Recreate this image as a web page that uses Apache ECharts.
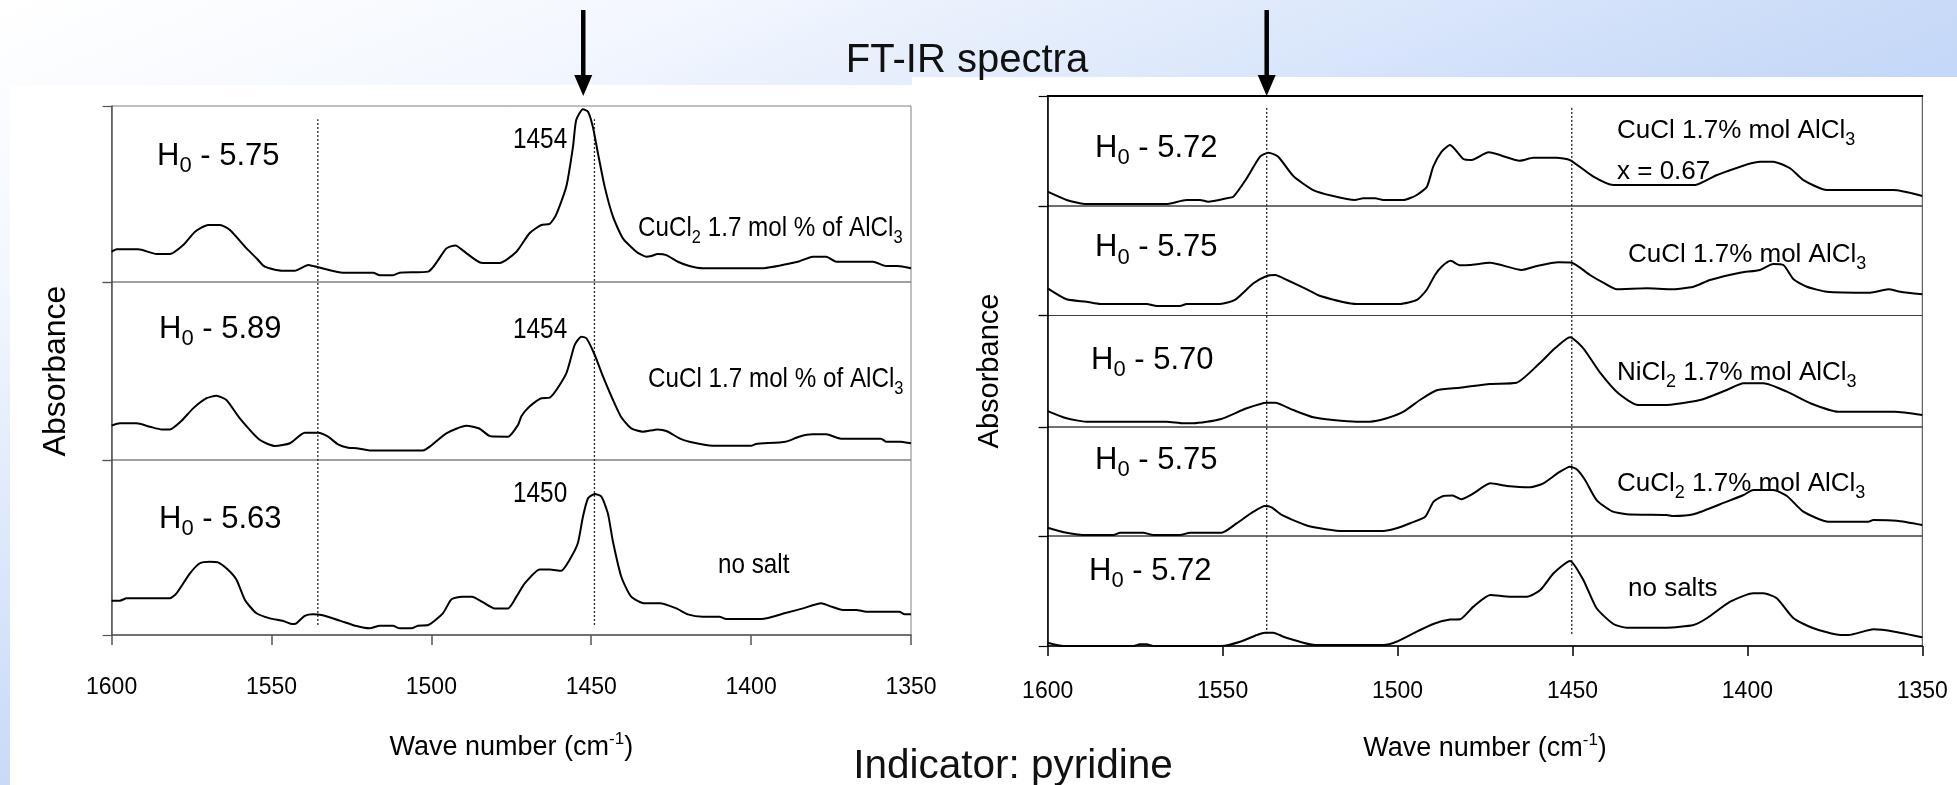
<!DOCTYPE html>
<html>
<head>
<meta charset="utf-8">
<script src="https://cdn.jsdelivr.net/npm/echarts@6/dist/echarts.min.js"></script>
<style>
html, body { margin: 0; padding: 0; width: 1957px; height: 785px; overflow: hidden; }
body { position: relative; background: linear-gradient(to bottom right, #ffffff 0%, #f3f7fe 18%, #c8daf8 50%, #a9c3ee 100%); }
.sheet { position: absolute; background: #ffffff; }
#chart { position: absolute; left: 0; top: 0; width: 1957px; height: 785px; }
</style>
</head>
<body>
<div class="sheet" style="left:10px;top:85px;width:902px;height:700px"></div>
<div class="sheet" style="left:912px;top:77px;width:1045px;height:708px"></div>
<div id="chart"></div>
<script>
// wave number range (cm-1), axis runs 1600 -> 1350
var xTicks = [1600, 1550, 1500, 1450, 1400, 1350];

// left plot, [wave number, absorbance] (panel relative)
var leftCuCl2 = [[1600,0.172],[1598.4,0.186],[1591.7,0.186],[1585.9,0.159],[1581.8,0.159],[1577.6,0.210],[1573.9,0.286],[1569.8,0.324],[1566.1,0.324],[1563,0.295],[1557.8,0.191],[1554.7,0.135],[1552.1,0.087],[1546.8,0.064],[1542.7,0.064],[1538.5,0.097],[1535.4,0.084],[1527.6,0.053],[1518.2,0.053],[1516.1,0.038],[1512,0.038],[1509.9,0.053],[1501,0.059],[1495.3,0.191],[1492.5,0.208],[1489,0.163],[1484.5,0.110],[1478.6,0.108],[1473.4,0.172],[1469.3,0.277],[1465.6,0.324],[1463,0.330],[1461,0.381],[1457.8,0.542],[1455.7,0.769],[1454.7,0.920],[1452.6,0.981],[1451,0.968],[1449.5,0.882],[1447.9,0.731],[1445.8,0.542],[1443.2,0.371],[1440.1,0.248],[1435.9,0.172],[1432.8,0.144],[1431.2,0.148],[1429.2,0.159],[1426.5,0.153],[1422.9,0.115],[1419.3,0.091],[1415.1,0.078],[1396.8,0.078],[1385.4,0.115],[1380.7,0.144],[1376.5,0.144],[1373.4,0.115],[1361.9,0.115],[1357.8,0.091],[1354.2,0.091],[1350,0.078]];
var leftCuCl = [[1600,0.193],[1597.4,0.206],[1592.2,0.206],[1588,0.187],[1584.3,0.172],[1581.8,0.172],[1578.1,0.221],[1574.5,0.290],[1570.3,0.347],[1567.2,0.361],[1564.1,0.337],[1559.9,0.234],[1553.6,0.112],[1548.9,0.079],[1544.2,0.094],[1539.6,0.153],[1535.4,0.153],[1532.3,0.131],[1529.2,0.088],[1526,0.069],[1523.4,0.066],[1519.3,0.054],[1502.6,0.054],[1500.5,0.075],[1495.3,0.150],[1489,0.192],[1485,0.177],[1481.5,0.133],[1476,0.131],[1472.9,0.197],[1471.8,0.247],[1469.3,0.300],[1465.6,0.347],[1463,0.350],[1457.8,0.487],[1455.2,0.646],[1453.1,0.693],[1451.5,0.684],[1448.9,0.590],[1446.3,0.468],[1443.2,0.337],[1440.6,0.240],[1437.5,0.178],[1433.8,0.159],[1429.2,0.172],[1426.5,0.163],[1422.4,0.122],[1419.3,0.103],[1412,0.080],[1400,0.080],[1398.5,0.090],[1389.2,0.103],[1385,0.131],[1380.8,0.144],[1376.5,0.144],[1371.9,0.120],[1359.4,0.120],[1357.8,0.103],[1353.2,0.103],[1350,0.094]];
var leftNoSalt = [[1600,0.196],[1597.4,0.196],[1595.3,0.210],[1581.8,0.210],[1579.7,0.238],[1575.5,0.352],[1572.4,0.410],[1569.3,0.419],[1566.7,0.415],[1563.5,0.371],[1560.9,0.314],[1558.3,0.200],[1554.7,0.124],[1550.5,0.095],[1546.3,0.080],[1543.7,0.063],[1542.2,0.067],[1539.6,0.109],[1537,0.118],[1534.4,0.114],[1528.6,0.082],[1523.4,0.051],[1519.3,0.038],[1516.1,0.053],[1512,0.053],[1509.9,0.038],[1506.2,0.038],[1504.2,0.053],[1501,0.057],[1496.4,0.124],[1493.7,0.204],[1490.4,0.219],[1487.3,0.219],[1483.8,0.186],[1480.2,0.152],[1476,0.152],[1473.4,0.219],[1470.8,0.295],[1466.1,0.375],[1463,0.375],[1459.4,0.367],[1456.8,0.429],[1454.2,0.524],[1452.6,0.676],[1451,0.781],[1448.9,0.806],[1446.8,0.790],[1444.8,0.695],[1443.2,0.533],[1440.6,0.333],[1437.5,0.219],[1433.3,0.181],[1428.6,0.181],[1423.4,0.152],[1419.8,0.118],[1415.1,0.105],[1409.9,0.105],[1407.8,0.091],[1396.8,0.091],[1389,0.127],[1383.8,0.152],[1378.1,0.181],[1375.5,0.166],[1371.3,0.143],[1367.1,0.143],[1364,0.133],[1353.6,0.133],[1352,0.118],[1350,0.118]];

// right plot
var rightCuClX = [[1600,0.130],[1594.6,0.055],[1588.9,0.018],[1566,0.018],[1560.3,0.055],[1556.5,0.055],[1554.1,0.039],[1548.8,0.070],[1546.9,0.085],[1543.1,0.252],[1539.3,0.448],[1536.9,0.485],[1534.1,0.448],[1529.8,0.273],[1524.1,0.145],[1518.4,0.091],[1512.2,0.055],[1509.8,0.070],[1506.4,0.070],[1504.1,0.055],[1498.3,0.055],[1494.5,0.100],[1491.6,0.176],[1489.8,0.357],[1487.4,0.494],[1485,0.555],[1481.2,0.427],[1478.8,0.418],[1474,0.488],[1465,0.412],[1461.2,0.439],[1454.5,0.439],[1450.7,0.418],[1444,0.267],[1438.3,0.191],[1414.9,0.191],[1408.7,0.282],[1396.4,0.403],[1392.6,0.403],[1387.8,0.343],[1384,0.236],[1377.3,0.145],[1358.3,0.145],[1350,0.091]];
var rightCuCl = [[1600,0.248],[1594.6,0.148],[1588.9,0.126],[1585,0.105],[1571.7,0.105],[1568.8,0.087],[1562.2,0.087],[1560.3,0.105],[1550.7,0.105],[1546.5,0.142],[1541.2,0.294],[1537.4,0.361],[1535,0.370],[1531.6,0.324],[1525.9,0.239],[1522.1,0.178],[1511.7,0.105],[1499.3,0.105],[1494.5,0.142],[1491.7,0.233],[1489.3,0.370],[1487.4,0.446],[1484.8,0.499],[1482.1,0.458],[1479.3,0.461],[1473.5,0.482],[1464.5,0.416],[1460.2,0.452],[1454,0.486],[1450.2,0.482],[1445,0.370],[1441.2,0.300],[1437.3,0.239],[1428.8,0.248],[1422.1,0.239],[1415.4,0.263],[1410.7,0.324],[1402.1,0.391],[1396.4,0.416],[1392.6,0.470],[1389.7,0.461],[1386.8,0.331],[1383,0.263],[1377.3,0.217],[1364.9,0.208],[1359.7,0.239],[1356.3,0.217],[1350,0.194]];
var rightNiCl2 = [[1600,0.143],[1594.6,0.078],[1588.9,0.048],[1566,0.048],[1561.2,0.033],[1558.4,0.033],[1550.7,0.069],[1543.1,0.168],[1537.4,0.218],[1535,0.218],[1529.8,0.152],[1524.1,0.087],[1518.4,0.063],[1511.7,0.048],[1507.9,0.048],[1503.1,0.078],[1498.3,0.137],[1493.6,0.242],[1488.8,0.330],[1482.1,0.352],[1473.6,0.386],[1466,0.397],[1459.4,0.571],[1455,0.706],[1450.7,0.805],[1446.9,0.706],[1442.1,0.487],[1436.9,0.302],[1431.2,0.197],[1424,0.197],[1413.5,0.242],[1405.9,0.332],[1401.1,0.392],[1395.4,0.392],[1388.7,0.317],[1382,0.213],[1374,0.137],[1357.9,0.137],[1350,0.108]];
var rightCuCl2 = [[1600,0.076],[1594.6,0.030],[1588.9,0.009],[1581.2,0.009],[1579.3,0.030],[1572.7,0.030],[1569.8,0.009],[1562.2,0.009],[1559.3,0.030],[1550.3,0.030],[1546,0.116],[1541.2,0.223],[1537.9,0.275],[1536,0.263],[1533.1,0.193],[1525.5,0.092],[1515.5,0.046],[1504.1,0.046],[1500.3,0.071],[1496.4,0.117],[1492.1,0.177],[1489.7,0.315],[1486.9,0.367],[1484.3,0.372],[1481.8,0.338],[1478.3,0.391],[1473.5,0.483],[1468.8,0.459],[1462.1,0.447],[1458.3,0.483],[1454,0.581],[1450.7,0.636],[1448.8,0.612],[1446.4,0.514],[1443.1,0.330],[1438.8,0.229],[1434.5,0.199],[1423.1,0.193],[1421.2,0.183],[1415.4,0.199],[1405.9,0.315],[1401.1,0.376],[1398.3,0.422],[1392.6,0.422],[1388.7,0.367],[1384,0.223],[1376.8,0.131],[1365.4,0.131],[1364,0.147],[1357.3,0.140],[1350,0.101]];
var rightNoSalts = [[1600,0.030],[1595.5,0.0],[1575.5,0.0],[1573.6,0.015],[1571.7,0.015],[1569.8,0.0],[1550.3,0.0],[1545,0.039],[1540.2,0.1],[1537.9,0.121],[1535.5,0.121],[1532.2,0.079],[1523.6,0.009],[1504.1,0.009],[1500.3,0.039],[1495.5,0.115],[1489.8,0.2],[1485,0.240],[1482.1,0.243],[1478.3,0.358],[1473.5,0.464],[1467.8,0.448],[1463,0.448],[1459.2,0.509],[1455.4,0.661],[1450.7,0.773],[1446.9,0.6],[1443.1,0.343],[1438.3,0.2],[1434.5,0.167],[1423.1,0.167],[1415.4,0.191],[1411.6,0.252],[1404.9,0.403],[1398.3,0.479],[1395.4,0.479],[1391.6,0.434],[1386.8,0.252],[1381.1,0.161],[1373.4,0.1],[1371.1,0.1],[1363.9,0.152],[1357.9,0.130],[1350,0.079]];

// reference wave numbers
var leftDotted = [1535.5, 1449];
var rightDotted = [1537.4, 1450.2];
var leftArrowAt = 1452.5;
var rightArrowAt = 1537.4;

// texts
var leftH0 = ['5.75', '5.89', '5.63'];
var rightH0 = ['5.72', '5.75', '5.70', '5.75', '5.72'];
var leftPeaks = ['1454', '1454', '1450'];

var sans = "'Liberation Sans',Arial,sans-serif";

var chart = echarts.init(document.getElementById('chart'));

var leftPanels = [
	{top: 106, height: 176, data: leftCuCl2},
	{top: 282, height: 178, data: leftCuCl},
	{top: 460, height: 175, data: leftNoSalt}
];
var rightPanels = [
	{top: 96, height: 110, data: rightCuClX},
	{top: 206, height: 109.5, data: rightCuCl},
	{top: 315.5, height: 111.5, data: rightNiCl2},
	{top: 427, height: 109, data: rightCuCl2},
	{top: 536, height: 110, data: rightNoSalts}
];

var grids = [], xAxes = [], yAxes = [], series = [];

function hiddenX(gi) {
	return {gridIndex: gi, type: 'value', min: 1350, max: 1600, interval: 50, inverse: true,
		axisLine: {show: false}, axisTick: {show: false}, axisLabel: {show: false}, splitLine: {show: false}};
}

function waveName(size) {
	return {
		name: '{a|Wave number (cm}{s|-1}{a|)}',
		nameLocation: 'middle',
		nameTextStyle: {rich: {
			a: {fontSize: size, fontFamily: sans, color: '#000', lineHeight: size + 6},
			s: {fontSize: 17, fontFamily: sans, color: '#000', lineHeight: 17, verticalAlign: 'top'}
		}}
	};
}

function addPlot(panels, left, width, lineColor, axisColor, tickLen, labelMargin, nameGap, topLine) {
	panels.forEach(function (p, i) {
		var gi = grids.length;
		grids.push({left: left, top: p.top, width: width, height: p.height, show: true,
			borderColor: lineColor, borderWidth: 1, backgroundColor: 'transparent'});
		var xa = hiddenX(gi);
		if (i === panels.length - 1) {
			xa.axisLine = {show: true, onZero: false, lineStyle: {color: axisColor, width: 1.5}};
			xa.axisTick = {show: true, length: tickLen, lineStyle: {color: axisColor, width: 1.5}};
			xa.axisLabel = {show: true, margin: labelMargin, color: '#000', fontSize: 23, fontFamily: sans,
				formatter: function (v) { return String(v); }};
			Object.assign(xa, waveName(27));
			xa.nameGap = nameGap;
		} else if (i === 0 && topLine) {
			xa.position = 'top';
			xa.axisLine = {show: true, onZero: false, lineStyle: {color: '#000', width: 2}};
		}
		xAxes.push(xa);
		yAxes.push({gridIndex: gi, type: 'value', min: 0, max: 1, interval: 1,
			axisLabel: {show: false}, splitLine: {show: false},
			axisLine: {show: true, lineStyle: {color: axisColor, width: 1.5}},
			axisTick: {show: true, length: 9, lineStyle: {color: axisColor, width: 1.2}}});
		series.push({type: 'line', xAxisIndex: gi, yAxisIndex: gi, data: p.data,
			symbol: 'none', smooth: 0.2, silent: true,
			lineStyle: {color: '#000', width: 2}});
	});
}

function addOverlay(left, top, width, height, dotted, y0, y1) {
	var gi = grids.length;
	grids.push({left: left, top: top, width: width, height: height, show: false});
	xAxes.push(hiddenX(gi));
	yAxes.push({gridIndex: gi, type: 'value', min: 0, max: 1, show: false});
	dotted.forEach(function (wn) {
		series.push({type: 'line', xAxisIndex: gi, yAxisIndex: gi, data: [[wn, y0], [wn, y1]],
			symbol: 'none', silent: true, z: 1,
			lineStyle: {color: '#222', width: 1.3, type: [2, 2]}});
	});
	return gi;
}

addPlot(leftPanels, 111.6, 799.4, '#808080', '#555', 10, 41, 96, false);
var leftOverlay = addOverlay(111.6, 106, 799.4, 529, leftDotted, 0.019, 0.975);
addPlot(rightPanels, 1047.7, 874.6, '#404040', '#000', 10, 34, 86, true);
var rightOverlay = addOverlay(1047.7, 96, 874.6, 550, rightDotted, 0.022, 0.982);

chart.setOption({
	animation: false,
	grid: grids,
	xAxis: xAxes,
	yAxis: yAxes,
	series: series
});

// texts and arrows
var subRich = function (size, subSize) {
	return {
		a: {fontSize: size, lineHeight: size + 11, fill: '#000'},
		s: {fontSize: subSize, lineHeight: subSize, verticalAlign: 'bottom', fill: '#000'}
	};
};

function text(x, y, str, size, opts, sx) {
	var el = {type: 'text', x: x, y: y, z: 100, silent: true,
		style: Object.assign({text: str, fontFamily: sans, fontSize: size, fill: '#000',
			align: 'left', verticalAlign: 'middle'}, opts || {})};
	if (sx) el.scaleX = sx;
	return el;
}

function h0(x, y, v) {
	return text(x, y, '{a|H}{s|0}{a| - ' + v + '}', 31, {rich: subRich(31, 22)});
}

var graphics = [];
graphics.push(text(967, 61, 'FT-IR spectra', 40, {align: 'center', fill: '#111'}));
graphics.push(text(1013, 767, 'Indicator: pyridine', 40.5, {align: 'center', fill: '#111'}));

var absL = text(56, 371, 'Absorbance', 32, {align: 'center'});
absL.rotation = Math.PI / 2;
graphics.push(absL);
var absR = text(990, 371, 'Absorbance', 29, {align: 'center'});
absR.rotation = Math.PI / 2;
graphics.push(absR);

var leftH0Pos = [[157, 156], [159, 329], [159, 519]];
leftH0.forEach(function (v, i) { graphics.push(h0(leftH0Pos[i][0], leftH0Pos[i][1], v)); });
var rightH0Pos = [[1095, 148], [1095, 247.5], [1091, 360], [1095, 460], [1089, 571]];
rightH0.forEach(function (v, i) { graphics.push(h0(rightH0Pos[i][0], rightH0Pos[i][1], v)); });

// left chart texts are condensed
var leftPeakY = [140, 330, 494];
leftPeaks.forEach(function (v, i) { graphics.push(text(513, leftPeakY[i], v, 29, null, 0.84)); });

var nr = subRich(28, 19);
graphics.push(text(638, 228, '{a|CuCl}{s|2}{a| 1.7 mol % of AlCl}{s|3}', 28, {rich: nr}, 0.865));
graphics.push(text(648, 379, '{a|CuCl 1.7 mol % of AlCl}{s|3}', 28, {rich: nr}, 0.865));
graphics.push(text(718, 565, 'no salt', 28, null, 0.865));

var rr = subRich(26, 18);
graphics.push(text(1617, 131, '{a|CuCl 1.7% mol AlCl}{s|3}', 26, {rich: rr}));
graphics.push(text(1617, 172, 'x = 0.67', 26));
graphics.push(text(1628, 255, '{a|CuCl 1.7% mol AlCl}{s|3}', 26, {rich: rr}));
graphics.push(text(1617, 373, '{a|NiCl}{s|2}{a| 1.7% mol AlCl}{s|3}', 26, {rich: rr}));
graphics.push(text(1617, 484, '{a|CuCl}{s|2}{a| 1.7% mol AlCl}{s|3}', 26, {rich: rr}));
graphics.push(text(1628, 589, 'no salts', 26));

function arrow(px) {
	return [
		{type: 'line', z: 100, silent: true, shape: {x1: px, y1: 10, x2: px, y2: 78},
			style: {stroke: '#000', lineWidth: 4.5}},
		{type: 'polygon', z: 100, silent: true, shape: {points: [[px - 9, 75], [px + 9, 75], [px, 96]]},
			style: {fill: '#000'}}
	];
}
graphics = graphics.concat(arrow(chart.convertToPixel({xAxisIndex: leftOverlay}, leftArrowAt)));
graphics = graphics.concat(arrow(chart.convertToPixel({xAxisIndex: rightOverlay}, rightArrowAt)));

chart.setOption({graphic: graphics});
</script>
</body>
</html>
